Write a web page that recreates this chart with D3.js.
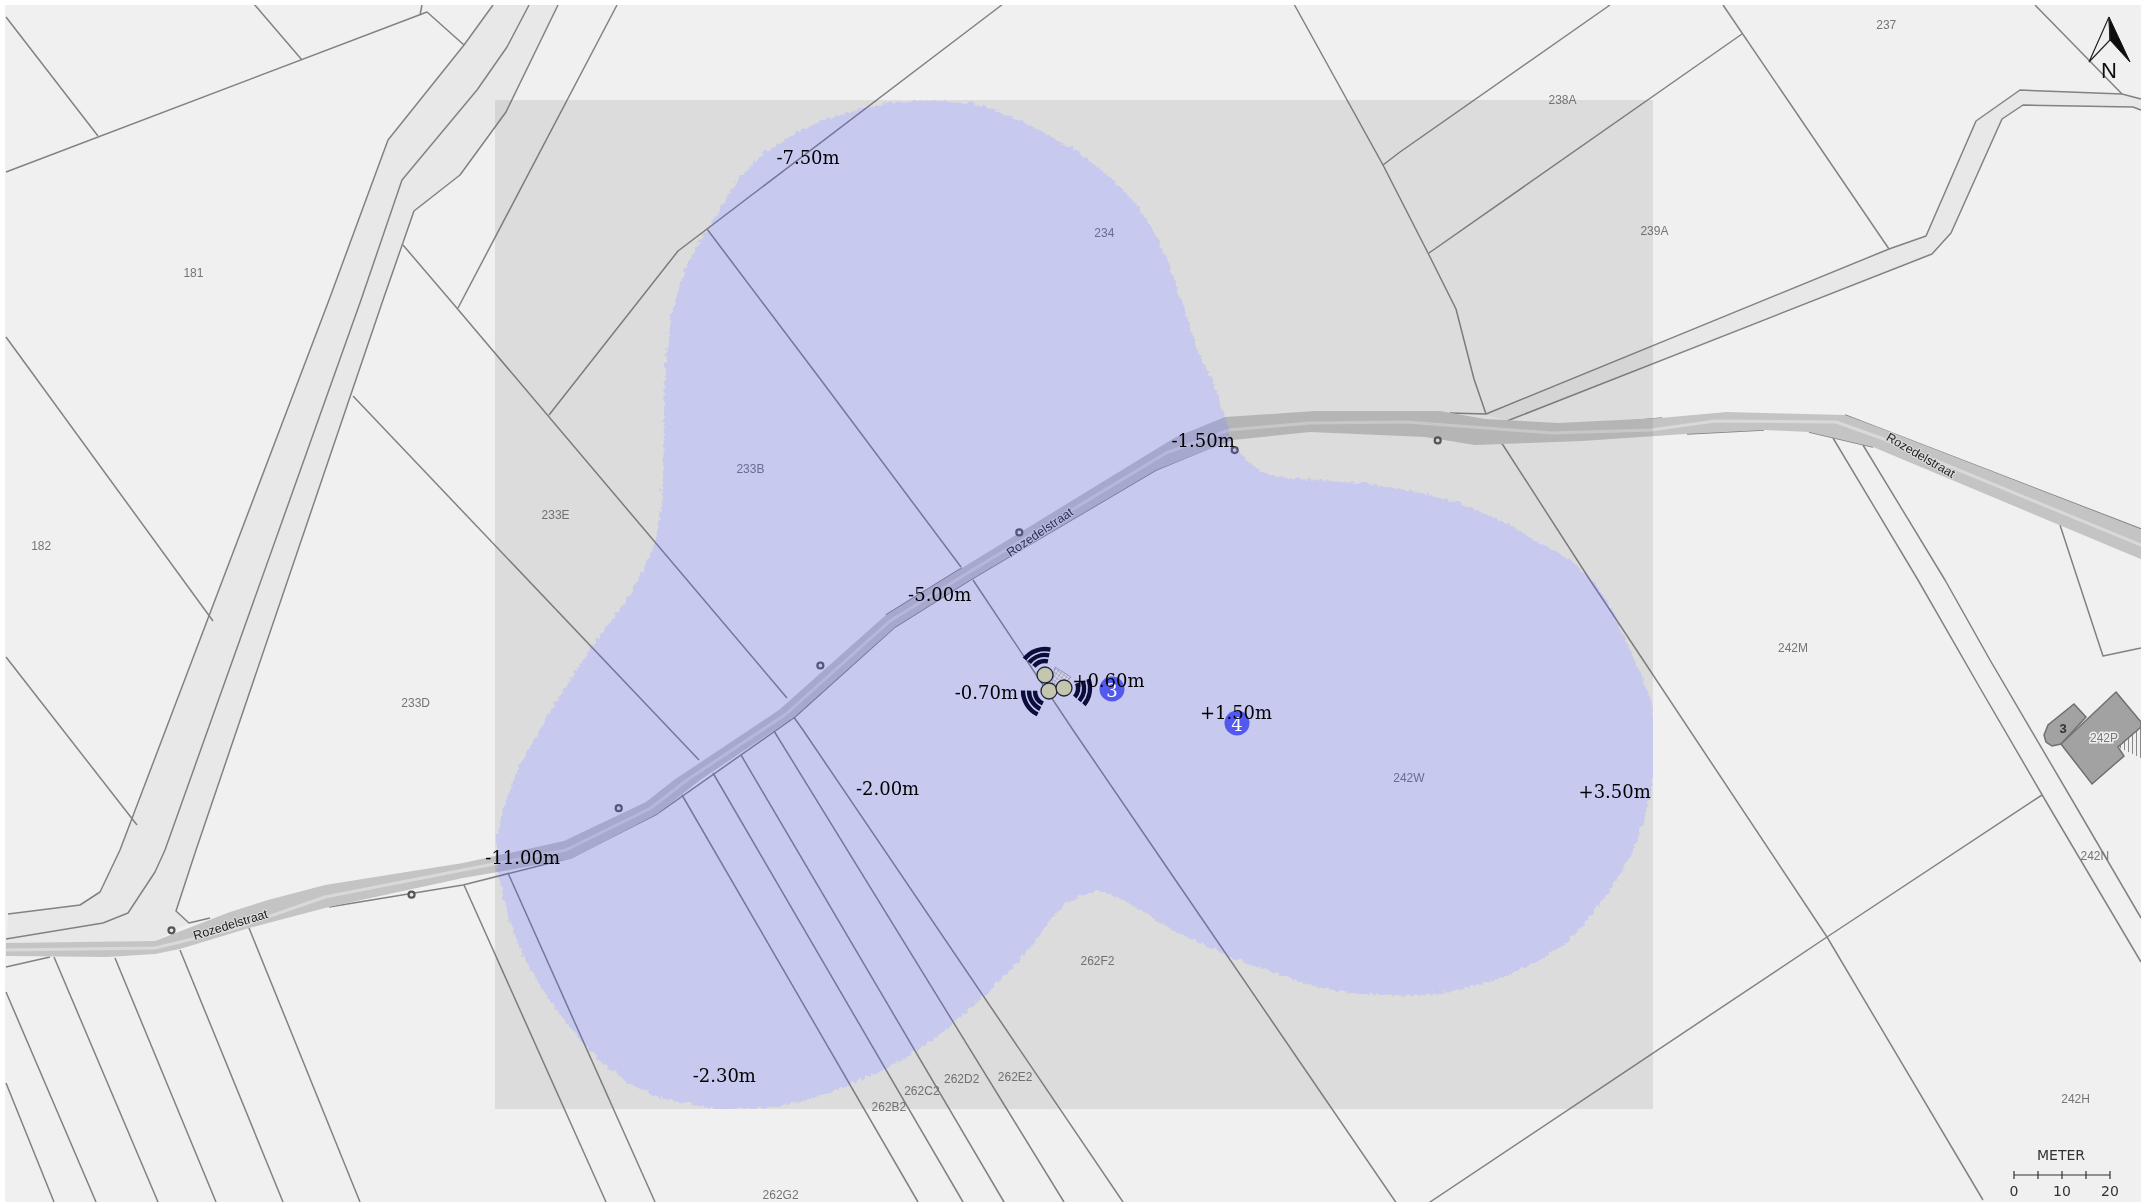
<!DOCTYPE html>
<html><head><meta charset="utf-8">
<script src="https://cdn.jsdelivr.net/npm/d3@7/dist/d3.min.js"></script>
<style>html,body{margin:0;padding:0;background:#fff}svg{display:block}</style>
</head><body><svg id="c" width="2149" height="1202"></svg>
<script>
// ---- map data, in reference pixels unless the name ends in Ov (overview units, 1566.5 wide)
const parcelLines = [
 [[6,17],[98,136]],[[254,4],[302,60]],[[6,172],[427,12],[464,45]],[[420,15],[422,5]],
 [[6,337],[213,621]],[[6,657],[137,825]],
 [[493,5],[464,45],[388,140],[329,300],[120,850],[100,892],[80,905],[8,914]],
 [[529,5],[507,47],[477,90],[402,180],[361,300],[165,850],[155,872],[128,913],[103,923],[6,939]],
 [[558,5],[506,112],[460,175],[414,211],[383,300],[196,850],[176,911],[189,923],[210,918]],
 [[617,5],[458,308]],
 [[403,245],[450,300],[787,698]],[[793,716],[803,730],[1123,1202]],
 [[707,229],[821,380],[961,567]],[[973,580],[1073,730],[1170,872],[1397,1204]],
 [[1003,4],[707,229],[678,251],[549,415]],
 [[353,396],[699,760]],
 [[682,795],[918,1202]],[[713,773],[963,1202]],[[741,755],[1004,1202]],[[774,731],[1064,1202]],
 [[6,967],[50,957]],[[54,957],[158,1202]],[[115,958],[216,1202]],[[180,950],[283,1202]],
 [[249,928],[360,1202]],[[464,885],[606,1202]],[[508,873],[655,1202]],[[6,992],[96,1202]],[[6,1083],[54,1202]],
 [[329,907],[463,885],[570,858],[657,814],[795,717],[895,627],[970,580],[1156,470],[1229,440]],
 [[886,615],[962,568]],
 [[1610,5],[1400,152],[1383,165]],[[1742,34],[1429,253]],[[1723,5],[1889,249]],
 [[1294,4],[1383,165],[1428,253],[1456,309],[1474,379],[1486,414]],
 [[1450,413],[1486,414],[1889,249],[1926,236],[1976,121],[2020,90],[2122,94],[2141,99]],
 [[1507,421],[1932,254],[1951,233],[2002,119],[2023,105],[2133,107],[2141,110]],
 [[2035,5],[2122,94]],
 [[1488,430],[1503,445],[1590,580],[1827,937],[1983,1200]],
 [[1427,1204],[1827,937],[2042,795]],
 [[1833,438],[1918,580],[1980,688],[2051,810],[2141,962]],
 [[1863,445],[1945,580],[1990,660],[2078,810],[2141,918]],
 [[2060,525],[2078,580],[2103,656],[2141,648]],
 [[1588,425],[1662,418]],[[1687,434],[1764,430]],[[1809,432],[1873,447]],[[1845,415],[2141,529]]
];
const verge1 = [[493,5],[464,45],[388,140],[329,300],[120,850],[100,892],[80,905],[8,914],[6,945],[155,941],[189,923],[176,911],[196,850],[383,300],[414,211],[460,175],[506,112],[558,5]];
const verge2 = [[1486,414],[1889,249],[1926,236],[1976,121],[2020,90],[2122,94],[2141,99],[2141,110],[2133,107],[2023,105],[2002,119],[1951,233],[1932,254],[1507,421]];
const roadTop = [[6,943],[155,941],[230,912],[268,900],[325,885],[463,863],[564,841],[646,802],[674,780],[779,710],[886,615],[962,568],[1176,437],[1225,417],[1315,411],[1440,411],[1485,419],[1558,423],[1660,418],[1727,412],[1845,415],[1885,430],[2148,532]];
const roadBottom = [[2148,562],[1873,447],[1809,432],[1764,430],[1685,434],[1582,441],[1475,445],[1425,437],[1310,432],[1233,440],[1156,470],[970,580],[895,627],[794,717],[700,780],[657,814],[571,859],[463,878],[329,907],[249,928],[180,949],[155,954],[107,957],[6,956]];
const roadCentre = [[6,950],[155,948],[230,930],[325,897],[463,870],[566,850],[651,808],[687,780],[786,714],[890,621],[966,574],[1166,453],[1229,430],[1310,423],[1406,422],[1552,433],[1651,430],[1715,421],[1836,422],[1881,438],[2148,548]];
const houseMain = [[2116,692],[2141,722],[2141,727],[2118,747],[2124,756],[2092,784],[2061,744]];
const houseAnnex = [[2074,704],[2086,717],[2061,744],[2052,746],[2046,742],[2044,735],[2048,725]];
const houseHatch = [[2118,747],[2141,727],[2141,758]];
const surveyPointsOv = [[125,678],[300,652],[451,589],[598,485],[743,388],[900,328],[1048,321]];
const studyAreaCorners = [[495,100],[1653,1109]];
const noiseContourOv = [[640,75],[675,72],[710,75],[745,88],[780,107],[810,130],[832,155],[850,190],[862,225],[875,262],[883,277],[892,305],[899,324],[915,340],[932,346],[985,350],[1030,357],[1074,370],[1114,390],[1159,421],[1190,480],[1203,515],[1206,540],[1202,575],[1190,615],[1170,650],[1140,685],[1095,710],[1050,722],[1020,724],[970,720],[920,705],[880,689],[851,675],[824,658],[797,648],[769,663],[747,692],[715,725],[667,764],[618,789],[569,804],[529,807],[497,802],[473,796],[440,775],[405,735],[380,695],[365,650],[361,610],[372,570],[395,525],[430,470],[463,423],[478,385],[482,340],[483,285],[488,230],[500,190],[515,165],[545,120],[590,90]];
const parcelNames = ["237","238A","239A","234","181","182","233B","233E","233D","242M","242W","242N","242H","262F2","262D2","262E2","262C2","262B2","262G2"];
const parcelNamePosOv = [[1375,18],[1139,73],[1206,168],[805,170],[141,199],[30,398],[547,342],[405,375],[303,512],[1307,472],[1027,567],[1527,624],[1513,801],[800,700],[701,786],[740,785],[672,795],[648,807],[569,871]];
const streetLabels = ["Rozedelstraat","Rozedelstraat","Rozedelstraat"];
const streetLabelPosOv = [[168,674,-17],[758,388,-34],[1400,332,30]];
const depthLabels = ["-7.50m","-1.50m","-5.00m","-0.70m","+0.60m","+1.50m","-2.00m","+3.50m","-11.00m","-2.30m"];
const depthLabelPosOv = [[589,115],[877,321],[685,433],[719,505],[808,496],[901,519],[647,575],[1177,577],[381,625],[528,784]];
const receptorNames = ["3","4"];
const receptorPos = [[1112,689],[1237,723]];
const turbinePos = [[1045,675],[1049,691],[1064,688]];
const turbineWaveAngles = [[-52,12],[206,271],[70,130]];
const waveRadii = [14,20,26];
const turbineKite = [[1055,667],[1071,677],[1062,686],[1052,683]];
const scaleTicks = [0,5,10,15,20];
const scaleTickLabels = [0,10,20];
const arrowRight = [[2109,17],[2130,62],[2110,40]];
const arrowLeft = [[2109,17],[2089,62],[2110,40]];

// ---- scales
const x = d3.scaleLinear([0,2149],[0,2149]), y = d3.scaleLinear([0,1202],[0,1202]);
const xO = d3.scaleLinear([0,1566.5],[0,2149]), yO = d3.scaleLinear([0,876],[0,1202]);
const xM = d3.scaleLinear([0,20],[2014,2110]);
const line = d3.line().x(d=>x(d[0])).y(d=>y(d[1]));
const closed = d3.line().x(d=>x(d[0])).y(d=>y(d[1])).curve(d3.curveLinearClosed);
const svg = d3.select("#c");
const defs = svg.append("defs");
defs.append("clipPath").attr("id","sheet").append("rect").attr("x",5).attr("y",5).attr("width",2136).attr("height",1197);
const sq = studyAreaCorners;
defs.append("clipPath").attr("id","area").append("rect").attr("x",x(sq[0][0])).attr("y",y(sq[0][1])).attr("width",x(sq[1][0])-x(sq[0][0])).attr("height",y(sq[1][1])-y(sq[0][1]));
const f = defs.append("filter").attr("id","jag").attr("filterUnits","userSpaceOnUse").attr("x",0).attr("y",0).attr("width",2149).attr("height",1202);
f.append("feTurbulence").attr("type","turbulence").attr("baseFrequency",0.16).attr("numOctaves",1).attr("seed",4).attr("result","n");
f.append("feDisplacementMap").attr("in","SourceGraphic").attr("in2","n").attr("scale",6).attr("xChannelSelector","R").attr("yChannelSelector","G");
const soft = defs.append("filter").attr("id","soft").attr("filterUnits","userSpaceOnUse").attr("x",0).attr("y",0).attr("width",2149).attr("height",1202);
soft.append("feGaussianBlur").attr("stdDeviation",0.45);
const hatch = defs.append("pattern").attr("id","hv").attr("width",4).attr("height",4).attr("patternUnits","userSpaceOnUse");
hatch.append("rect").attr("width",1).attr("height",4).attr("fill","#888");
const mesh = defs.append("pattern").attr("id","mesh").attr("width",3.4).attr("height",3.4).attr("patternUnits","userSpaceOnUse").attr("patternTransform","rotate(35)");
mesh.append("rect").attr("width",3.4).attr("height",3.4).attr("fill","#d4d4e6");
mesh.append("path").attr("d","M0 0H3.4M0 0V3.4").attr("stroke","#8a8cb0").attr("stroke-width",0.9);

const root = svg.append("g").attr("clip-path","url(#sheet)").append("g").attr("filter","url(#soft)");
root.append("rect").attr("x",0).attr("y",0).attr("width",2149).attr("height",1202).attr("fill","#f0f0f0");
root.selectAll(".verge").data([verge1,verge2]).join("path").attr("d",closed).attr("fill","#e8e8e8");
root.selectAll(".parcel").data(parcelLines).join("path").attr("d",line).attr("fill","none").attr("stroke","#828282").attr("stroke-width",1.5).attr("stroke-linejoin","round");
root.append("path").attr("d",closed([...roadTop,...roadBottom])).attr("fill","#c4c4c4");
root.append("path").attr("d",line(roadCentre)).attr("fill","none").attr("stroke","#d9d9d9").attr("stroke-width",3).attr("stroke-linejoin","round");
// house
root.append("path").attr("d",closed(houseHatch)).attr("fill","url(#hv)").attr("stroke","none");
root.selectAll(".house").data([houseAnnex,houseMain]).join("path").attr("d",closed).attr("fill","#a2a2a2").attr("stroke","#707070").attr("stroke-width",1.5);
root.append("text").attr("x",2063).attr("y",733).attr("text-anchor","middle").attr("font-family","Liberation Sans").attr("font-weight","bold").attr("font-size",13).attr("fill","#333").text("3");
root.append("text").attr("x",2104).attr("y",742).attr("text-anchor","middle").attr("font-family","Liberation Sans").attr("font-size",12).attr("fill","#777").attr("stroke","#eee").attr("stroke-width",3).attr("paint-order","stroke").text("242P");
// survey points
root.selectAll(".pt").data(surveyPointsOv).join("circle").attr("cx",d=>xO(d[0])).attr("cy",d=>yO(d[1])).attr("r",3).attr("fill","#e6e6e6").attr("stroke","#555").attr("stroke-width",2.2);
// parcel names
root.selectAll(".pn").data(parcelNames).join("text").attr("x",(d,i)=>xO(parcelNamePosOv[i][0])).attr("y",(d,i)=>yO(parcelNamePosOv[i][1])+4)
  .attr("text-anchor","middle").attr("font-family","Liberation Sans").attr("font-size",12).attr("fill","#747474").text(d=>d);
// street names
root.selectAll(".sn").data(streetLabels).join("text").attr("transform",(d,i)=>{const p=streetLabelPosOv[i];return `translate(${xO(p[0])},${yO(p[1])}) rotate(${p[2]})`;})
  .attr("dy",4).attr("text-anchor","middle").attr("font-family","Liberation Sans").attr("font-size",12.5).attr("fill","#222").attr("stroke","#ddd").attr("stroke-width",2).attr("paint-order","stroke").text(d=>d);
// study area and contour
root.append("rect").attr("x",x(sq[0][0])).attr("y",y(sq[0][1])).attr("width",x(sq[1][0])-x(sq[0][0])).attr("height",y(sq[1][1])-y(sq[0][1])).attr("fill","rgb(80,80,80)").attr("fill-opacity",0.125);
const blob = d3.line().x(d=>xO(d[0])).y(d=>yO(d[1])).curve(d3.curveCatmullRomClosed.alpha(0.5));
root.append("g").attr("clip-path","url(#area)").append("path").attr("d",blob(noiseContourOv)).attr("fill","rgb(75,85,255)").attr("fill-opacity",0.15).attr("filter","url(#jag)");
root.append("g").attr("clip-path","url(#area)").style("mix-blend-mode","plus-lighter").append("path").attr("d",blob(noiseContourOv)).attr("fill","rgb(0,0,13)").attr("filter","url(#jag)");
// turbines
const arc = d3.arc();
turbinePos.forEach((c,i)=>{
  waveRadii.forEach(r=>{
    root.append("path").attr("transform",`translate(${x(c[0])},${y(c[1])})`)
      .attr("d",arc({innerRadius:r-2.2,outerRadius:r+2.2,startAngle:turbineWaveAngles[i][0]*Math.PI/180,endAngle:turbineWaveAngles[i][1]*Math.PI/180}))
      .attr("fill","#0a0f3c");
  });
});
root.append("path").attr("d",closed(turbineKite)).attr("fill","url(#mesh)").attr("stroke","#8a8cb0").attr("stroke-width",0.8);
root.selectAll(".tb").data(turbinePos).join("circle").attr("cx",d=>x(d[0])).attr("cy",d=>y(d[1])).attr("r",8).attr("fill","#c4c6ae").attr("stroke","#20233a").attr("stroke-width",1.3);
// receptors
root.selectAll(".rc").data(receptorPos).join("circle").attr("cx",d=>x(d[0])).attr("cy",d=>y(d[1])).attr("r",12.5).attr("fill","#5258ee");
root.selectAll(".rt").data(receptorNames).join("text").attr("x",(d,i)=>x(receptorPos[i][0])).attr("y",(d,i)=>y(receptorPos[i][1])+8).attr("text-anchor","middle").attr("font-family","DejaVu Serif").attr("font-size",18).attr("fill","#fff").text(d=>d);
// depths
root.selectAll(".dl").data(depthLabels).join("text").attr("x",(d,i)=>xO(depthLabelPosOv[i][0])).attr("y",(d,i)=>yO(depthLabelPosOv[i][1])+6.5).attr("text-anchor","middle").attr("font-family","DejaVu Serif").attr("font-size",18).attr("fill","#000").text(d=>d);
// north arrow
root.append("path").attr("d",closed(arrowRight)).attr("fill","#111").attr("stroke","#111").attr("stroke-width",1);
root.append("path").attr("d",closed(arrowLeft)).attr("fill","none").attr("stroke","#222").attr("stroke-width",1.2);
root.append("text").attr("x",2109).attr("y",78).attr("text-anchor","middle").attr("font-family","Liberation Sans").attr("font-size",22).attr("fill","#111").text("N");
// scale bar
const sb = root.append("g").attr("fill","#333").attr("font-family","DejaVu Sans").attr("font-size",14);
sb.append("line").attr("x1",xM(0)).attr("x2",xM(20)).attr("y1",1175).attr("y2",1175).attr("stroke","#333").attr("stroke-width",1.2);
sb.selectAll(".tk").data(scaleTicks).join("line").attr("x1",d=>xM(d)).attr("x2",d=>xM(d)).attr("y1",1171).attr("y2",1179).attr("stroke","#333").attr("stroke-width",1.2);
sb.selectAll(".tl").data(scaleTickLabels).join("text").attr("x",d=>xM(d)).attr("y",1196).attr("text-anchor","middle").text(d=>d);
sb.append("text").attr("x",2061).attr("y",1160).attr("text-anchor","middle").text("METER");
</script></body></html>
